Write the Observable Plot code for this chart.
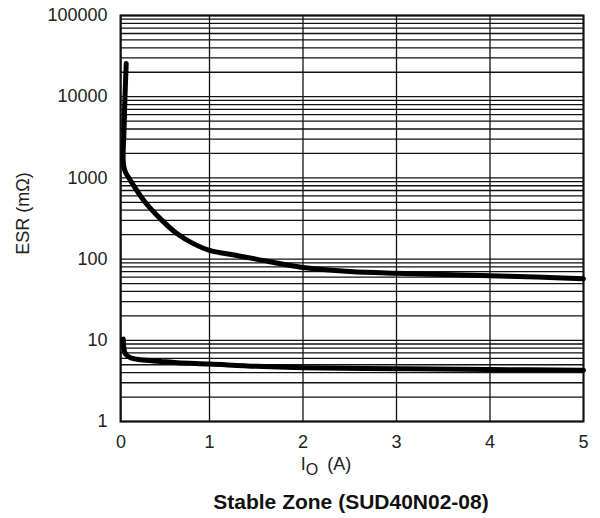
<!DOCTYPE html>
<html><head><meta charset="utf-8">
<script src="https://cdn.jsdelivr.net/npm/d3@7"></script>
<script src="https://cdn.jsdelivr.net/npm/@observablehq/plot@0.6"></script>
<style>body{margin:0;background:#fff;} svg{display:block}</style>
</head><body><div id="chart"></div>
<script>
// Upper boundary of the stable zone (I_O in A, ESR in mΩ)
const upperI   = [0.059, 0.045, 0.034, 0.025, 0.043, 0.107, 0.258, 0.446, 0.635, 0.823, 1.0, 1.25, 1.5, 2.0, 2.5, 3.0, 3.5, 4.0, 4.5, 5.0];
const upperESR = [25600, 10000, 3840, 1640, 1230, 929, 527, 313, 205, 154, 128, 113, 100, 79, 70.5, 67, 64.7, 62.4, 60, 57.3];
// Lower boundary
const lowerI   = [0.025, 0.032, 0.05, 0.107, 0.22, 0.446, 0.635, 1.0, 1.5, 2.0, 3.0, 4.0, 5.0];
const lowerESR = [10.4, 8.2, 6.8, 6.1, 5.75, 5.5, 5.3, 5.1, 4.78, 4.6, 4.46, 4.37, 4.28];

const xTicks = [0, 1, 2, 3, 4, 5];
const yTicks = [1, 10, 100, 1000, 10000, 100000];
const yLabel = "ESR (mΩ)";
const xLabelMain = "I", xLabelSub = "O", xLabelUnit = "(A)";
const title = "Stable Zone (SUD40N02-08)";

const yGrid = [];
for (let k = 0; k < 5; k++) for (let m = 1; m < 10; m++) yGrid.push(m * 10 ** k);
yGrid.push(1e5);

const upper = upperI.map((x, i) => ({x, y: upperESR[i]}));
const lower = lowerI.map((x, i) => ({x, y: lowerESR[i]}));

const font = "'Liberation Sans', Arial, Helvetica, sans-serif";
const chart = Plot.plot({
  width: 600, height: 518,
  marginLeft: 120, marginRight: 17, marginTop: 15, marginBottom: 97,
  style: {fontFamily: font, fontSize: "18px", color: "#222", background: "#fff"},
  x: {type: "linear", domain: [0, 1, 5], range: [120.5, 209, 583], ticks: xTicks, tickFormat: d3.format("d"), tickSize: 0, tickPadding: 14, label: null},
  y: {type: "log", domain: [1, 1e5], range: [421, 15], ticks: yTicks, tickFormat: d3.format("d"), tickSize: 0, tickPadding: 13, label: null},
  marks: [
    Plot.ruleY(yGrid, {stroke: "#111", strokeWidth: 1.3}),
    Plot.ruleX(xTicks, {stroke: "#111", strokeWidth: 1.3}),
    Plot.frame({stroke: "#111", strokeWidth: 2}),
    Plot.line(upper, {x: "x", y: "y", curve: "catmull-rom", stroke: "#000", strokeWidth: 5}),
    Plot.line(lower, {x: "x", y: "y", curve: "catmull-rom", stroke: "#000", strokeWidth: 5})
  ]
});
document.getElementById("chart").append(chart);

const svg = d3.select(chart);
svg.append("text")
  .attr("transform", "translate(28.5,213.5) rotate(-90)")
  .attr("text-anchor", "middle")
  .attr("font-family", font).attr("font-size", 18).attr("fill", "#222")
  .text(yLabel);

const xl = svg.append("text")
  .attr("x", 326).attr("y", 470)
  .attr("font-family", font).attr("font-size", 18).attr("fill", "#222");
xl.append("tspan").text(xLabelMain);
xl.append("tspan").attr("dy", 5).attr("font-size", 16).text(xLabelSub);
xl.append("tspan").attr("dy", -5).attr("dx", 9).text(xLabelUnit);

svg.append("text")
  .attr("x", 351).attr("y", 509)
  .attr("text-anchor", "middle")
  .attr("font-family", font).attr("font-size", 21).attr("font-weight", "bold").attr("fill", "#111")
  .text(title);
</script>
</body></html>
